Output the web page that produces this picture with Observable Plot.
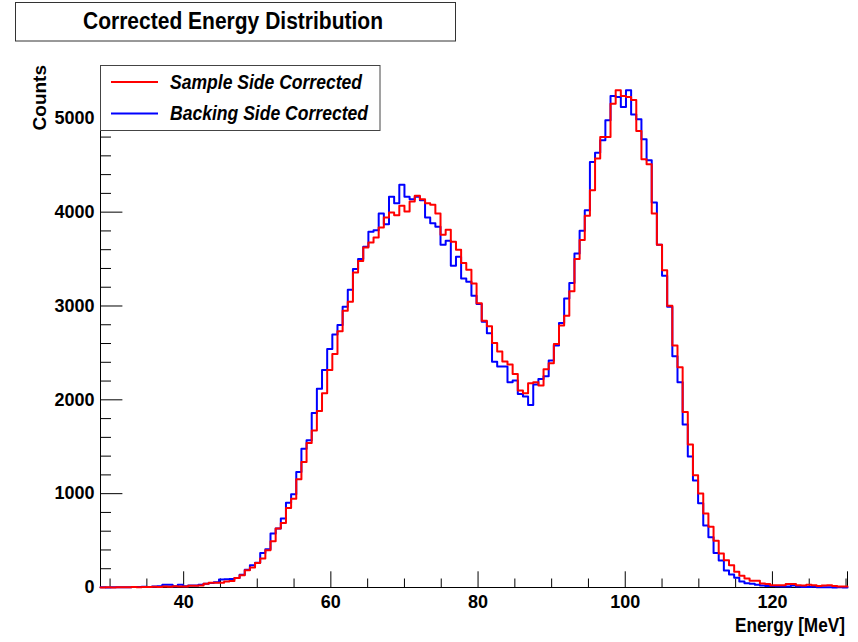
<!DOCTYPE html>
<html><head><meta charset="utf-8">
<script src="https://cdn.jsdelivr.net/npm/d3@7"></script>
<script src="https://cdn.jsdelivr.net/npm/@observablehq/plot@0.6"></script>
<style>
html,body{margin:0;padding:0;background:#fff;}
#chart{position:relative;width:858px;height:642px;overflow:hidden;}
</style></head><body><div id="chart"></div>
<script>
// ---- data ----
const chartTitle = "Corrected Energy Distribution";
const xTitle = "Energy [MeV]";
const yTitle = "Counts";
const seriesNames = ["Sample Side Corrected", "Backing Side Corrected"];
const seriesColors = ["#ff0000", "#0000ff"];
const binStart = 28.7;   // MeV, left edge of first bin
const binWidth = 0.7;    // MeV
const sampleCounts = [
  0,2,0,3,2,3,5,4,6,5,8,6,10,9,12,10,
  10,18,18,22,39,50,50,50,65,70,
  100,131,184,213,262,309,397,493,628,688,
  848,947,1153,1337,1539,1674,1880,2071,2319,2489,
  2730,2950,3046,3358,3480,3624,3677,3730,3837,3943,
  3996,3968,4067,4007,4113,4174,4138,4096,4078,3986,
  3759,3812,3684,3599,3457,3386,3241,3028,2844,2784,2606,2514,
  2408,2376,2276,2099,2070,2177,2188,2152,2326,2390,2596,2791,
  2897,3156,3500,3702,3961,4234,4571,4801,4801,5156,5298,
  5238,5227,5195,4865,4564,4511,3986,3652,3382,3003,
  2578,2348,1869,1525,1195,1002,789,647,498,362,
  291,238,167,124,96,71,71,43,36,25,25,25,36,36,25,
  20,30,25,15,20,25,15,10,10
];
const backingCounts = [
  2,0,3,2,4,3,5,6,8,6,10,12,28,28,14,28,
  12,20,22,30,40,48,55,85,88,90,
  100,135,190,238,265,369,408,575,628,734,
  902,993,1231,1479,1568,1859,2117,2319,2542,2695,
  2797,2993,3173,3393,3500,3631,3791,3808,3986,3872,
  4163,4096,4291,4163,4138,4163,4128,3943,3883,3844,
  3652,3695,3429,3525,3294,3259,3110,3021,2833,2710,2407,2354,
  2354,2188,2206,2063,2035,1946,2163,2223,2251,2418,2578,2819,
  3081,3244,3560,3801,4021,4535,4634,4766,4979,5238,5227,
  5121,5298,5042,4989,4776,4553,4103,3652,3322,2993,
  2465,2188,1736,1396,1140,898,660,535,369,287,
  181,138,103,64,46,39,28,20,15,15,12,10,10,20,10,
  5,5,8,3,3,2,0,2,0
];
const xMajorTicks = [40, 60, 80, 100, 120];
const xMinorTicks = [30, 35, 45, 50, 55, 65, 70, 75, 85, 90, 95, 105, 110, 115, 125, 130];
const yMajorTicks = [0, 1000, 2000, 3000, 4000, 5000];
const yMinorTicks = [200,400,600,800,1200,1400,1600,1800,2200,2400,2600,2800,3200,3400,3600,3800,4200,4400,4600,4800,5200,5400];

// ---- build step outlines (bin left edges + closing right edge) ----
function steps(counts) {
  const pts = counts.map((c, i) => ({x: binStart + i * binWidth, y: c}));
  pts.push({x: binStart + counts.length * binWidth, y: counts[counts.length - 1]});
  return pts;
}
const sampleSteps = steps(sampleCounts);
const backingSteps = steps(backingCounts);
const nBins = sampleCounts.length;
const xEnd = binStart + nBins * binWidth;
const yMax = 1.05 * Math.max(d3.max(sampleCounts), d3.max(backingCounts));

const W = 858, H = 642;
const mL = 100, mR = 11, mT = 65, mB = 55;
const fW = W - mL - mR, fH = H - mT - mB;
const font = "'Liberation Sans', Arial, Helvetica, sans-serif";

const svg = Plot.plot({
  width: W, height: H,
  marginLeft: mL, marginRight: mR, marginTop: mT, marginBottom: mB,
  x: {domain: [binStart, xEnd], label: null},
  y: {domain: [0, yMax], label: null},
  style: {fontFamily: font, fontWeight: "bold", fontSize: "18px", color: "#000", background: "#fff", overflow: "visible"},
  marks: [
    Plot.ruleX([binStart], {stroke: "#000", strokeWidth: 1}),
    Plot.ruleY([0], {stroke: "#000", strokeWidth: 1}),
    Plot.tickX(xMinorTicks, {x: d => d, insetTop: fH - 8.5, stroke: "#000", strokeWidth: 1}),
    Plot.tickX(xMajorTicks, {x: d => d, insetTop: fH - 15.7, stroke: "#000", strokeWidth: 1}),
    Plot.tickX([xEnd], {x: d => d, insetTop: fH - 15.7, stroke: "#000", strokeWidth: 1}),
    Plot.tickY(yMinorTicks, {y: d => d, insetRight: fW - 11, stroke: "#000", strokeWidth: 1}),
    Plot.tickY(yMajorTicks, {y: d => d, insetRight: fW - 22.4, stroke: "#000", strokeWidth: 1}),
    Plot.axisX({ticks: xMajorTicks, tickSize: 0, tickPadding: 8, tickFormat: d => String(d), label: null, fontSize: 18, fontWeight: "bold"}),
    Plot.axisY({ticks: yMajorTicks, tickSize: 0, tickPadding: 6, tickFormat: d => String(d), label: null, fontSize: 18, fontWeight: "bold"}),
    Plot.line(backingSteps, {x: "x", y: "y", curve: "step-after", stroke: seriesColors[1], strokeWidth: 2}),
    Plot.line(sampleSteps, {x: "x", y: "y", curve: "step-after", stroke: seriesColors[0], strokeWidth: 2})
  ]
});
document.getElementById("chart").appendChild(svg);

const s = d3.select(svg);
// title box
s.append("rect").attr("x", 15.5).attr("y", 2.5).attr("width", 440).attr("height", 38.5)
  .attr("fill", "#fff").attr("stroke", "#333").attr("stroke-width", 1);
s.append("text").attr("x", 83).attr("y", 28.5).attr("text-anchor", "start").attr("font-family", font).attr("font-weight", "bold")
  .attr("font-size", 23).attr("fill", "#000").attr("textLength", 300).attr("lengthAdjust", "spacingAndGlyphs")
  .text(chartTitle);

// axis titles
s.append("text").attr("transform", "translate(46,65) rotate(-90)").attr("text-anchor", "end")
  .attr("font-family", font).attr("font-weight", "bold").attr("font-size", 19).attr("fill", "#000")
  .text(yTitle);
s.append("text").attr("transform", "translate(735,632) scale(1,1.15)").attr("text-anchor", "start")
  .attr("font-family", font).attr("font-weight", "bold").attr("font-size", 17).attr("fill", "#000")
  .attr("textLength", 110).attr("lengthAdjust", "spacingAndGlyphs")
  .text(xTitle);

// legend
s.append("rect").attr("x", 100.5).attr("y", 65.5).attr("width", 279.5).attr("height", 65)
  .attr("fill", "#fff").attr("stroke", "#444").attr("stroke-width", 1);
const legY = [82, 113.5];
const legLen = [192, 198];
seriesNames.forEach((name, k) => {
  s.append("line").attr("x1", 111).attr("x2", 158).attr("y1", legY[k]).attr("y2", legY[k])
    .attr("stroke", seriesColors[k]).attr("stroke-width", 2);
  s.append("text").attr("x", 170).attr("y", legY[k] + 6.5).attr("text-anchor", "start").attr("font-family", font)
    .attr("font-weight", "bold").attr("font-style", "italic").attr("font-size", 21).attr("fill", "#000")
    .attr("textLength", legLen[k]).attr("lengthAdjust", "spacingAndGlyphs").text(name);
});
</script></body></html>
